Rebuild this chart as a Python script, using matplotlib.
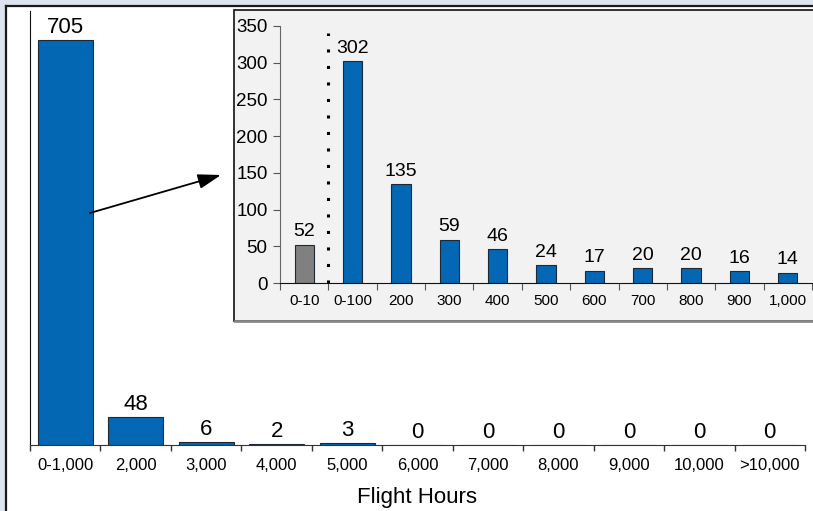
import matplotlib
matplotlib.use("Agg")
import matplotlib.pyplot as plt
from matplotlib.patches import Rectangle, FancyArrowPatch, ArrowStyle
from matplotlib.lines import Line2D

plt.rcParams['font.family'] = ['Liberation Sans', 'DejaVu Sans']

# Totals by flight-hour band
main_labels = ["0-1,000", "2,000", "3,000", "4,000", "5,000", "6,000",
               "7,000", "8,000", "9,000", "10,000", ">10,000"]
main_values = [705, 48, 6, 2, 3, 0, 0, 0, 0, 0, 0]

# Breakdown of the first 1,000 hours
inset_labels = ["0-10", "0-100", "200", "300", "400", "500", "600",
                "700", "800", "900", "1,000"]
inset_values = [52, 302, 135, 59, 46, 24, 17, 20, 20, 16, 14]
inset_yticks = [0, 50, 100, 150, 200, 250, 300, 350]

BLUE = "#0467B4"
GREY_BAR = "#808080"
BAND = "#DCE4F1"

W, H = 813, 511
fig = plt.figure(figsize=(W / 100, H / 100), dpi=100, facecolor=BAND)


def fx(px):
    return px / W


def fy(py):
    return (H - py) / H


# white panel with dark top/left edge
fig.add_artist(Rectangle((fx(6), 0), 1 - fx(6), fy(6), transform=fig.transFigure,
                         facecolor="white", edgecolor="none", zorder=-5))
fig.add_artist(Line2D([fx(6), fx(6)], [0, fy(6)], transform=fig.transFigure,
                      color="#1a1a1a", lw=1.6, zorder=-4))
fig.add_artist(Line2D([fx(6), 1], [fy(6), fy(6)], transform=fig.transFigure,
                      color="#1a1a1a", lw=1.6, zorder=-4))

# ---- main chart ----
ax = fig.add_axes([fx(30), fy(445), fx(805) - fx(30), fy(11) - fy(445)])
ax.set_facecolor("none")
x = list(range(len(main_values)))
ax.bar(x, main_values, width=0.78, color=BLUE, edgecolor="#1c2a38", linewidth=0.8)
for xi, v in zip(x, main_values):
    ax.annotate(str(v), (xi, v), xytext=(0, 5), textcoords="offset points",
                ha="center", va="baseline", fontsize=16)
ax.set_xlim(-0.5, len(main_values) - 0.5)
ax.set_ylim(0, 755)
ax.set_yticks([])
ax.set_xticks([i - 0.5 for i in range(len(main_values) + 1)])
ax.set_xticklabels([])
ax.set_xticks(x, minor=True)
ax.set_xticklabels(main_labels, minor=True, fontsize=12)
ax.tick_params(axis="x", which="major", direction="out", length=4, width=1, color="#333333")
ax.tick_params(axis="x", which="minor", length=0, pad=9)
for s in ("top", "right"):
    ax.spines[s].set_visible(False)
ax.spines["left"].set_color("#111111")
ax.spines["bottom"].set_color("#333333")
fig.text(fx(417), fy(497), "Flight Hours", ha="center", va="center", fontsize=16)

# ---- inset panel ----
fig.add_artist(Rectangle((fx(234), fy(321)), 1.0, fy(10) - fy(321),
                         transform=fig.transFigure, facecolor="#F2F2F2",
                         edgecolor="#111111", lw=1.2, zorder=2))
fig.add_artist(Line2D([fx(235), 1], [fy(321), fy(321)], transform=fig.transFigure,
                      color="#888888", lw=2, zorder=2.1))

ins = fig.add_axes([fx(280), fy(283), fx(812) - fx(280), fy(26) - fy(283)], zorder=3)
ins.set_facecolor("none")
xi_ = list(range(len(inset_values)))
colors = [GREY_BAR] + [BLUE] * (len(inset_values) - 1)
ins.bar(xi_, inset_values, width=0.4, color=colors, edgecolor="#1c2a38", linewidth=0.8)
for xi, v in zip(xi_, inset_values):
    ins.annotate(str(v), (xi, v), xytext=(0, 6), textcoords="offset points",
                 ha="center", va="baseline", fontsize=14)
ins.vlines(0.5, 0, 340, colors="black", linestyles=(0, (1, 4.4)), linewidth=2.2,
           clip_on=False)
ins.set_xlim(-0.5, len(inset_values) - 0.5)
ins.set_ylim(0, 350)
ins.set_yticks(inset_yticks)
ins.tick_params(axis="y", labelsize=13.5, length=5, pad=4, color="#555555")
ins.set_xticks([i - 0.5 for i in range(len(inset_values) + 1)])
ins.set_xticklabels([])
ins.set_xticks(xi_, minor=True)
ins.set_xticklabels(inset_labels, minor=True, fontsize=11)
ins.tick_params(axis="x", which="major", length=5, color="#555555")
ins.tick_params(axis="x", which="minor", length=0, pad=8)
for s in ("top", "right"):
    ins.spines[s].set_visible(False)
ins.spines["left"].set_color("#666666")
ins.spines["bottom"].set_color("#111111")

# arrow pointing from the first bar to the inset
arrow = FancyArrowPatch((fx(90), fy(213)), (fx(221), fy(175)),
                        transform=fig.transFigure,
                        arrowstyle=ArrowStyle("-|>", head_length=1.0, head_width=0.32),
                        mutation_scale=14, color="black", lw=1.3, zorder=4,
                        shrinkA=0, shrinkB=0)
fig.add_artist(arrow)

fig.savefig("out.png", dpi=100, facecolor=BAND)
